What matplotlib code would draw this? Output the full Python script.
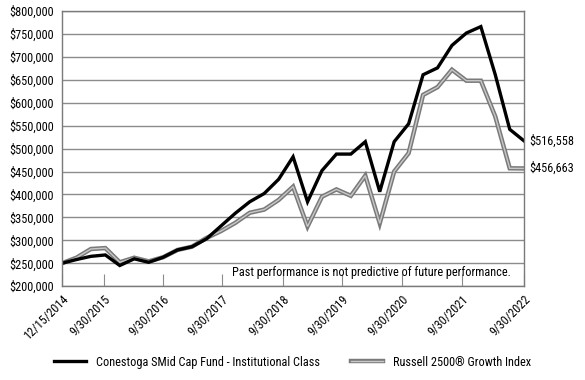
import matplotlib
matplotlib.use("Agg")
import matplotlib.pyplot as plt
from matplotlib.legend_handler import HandlerTuple
from matplotlib.ticker import FuncFormatter

plt.rcParams["font.family"] = ["Roboto Condensed", "DejaVu Sans"]
plt.rcParams["font.stretch"] = "condensed"
FS = 8.8

# quarterly values, 12/15/2014 .. 9/30/2022 (33 points)
fund_label = "Conestoga SMid Cap Fund - Institutional Class"
index_label = "Russell 2500\u00ae Growth Index"
fund = [250000, 258000, 265000, 268000, 245000, 259600, 252000, 263000, 279000,
        286000, 303000, 331000, 359000, 384000, 402000, 433000, 482000, 384000,
        452000, 488000, 488000, 515000, 406000, 515000, 554000, 661000, 676000,
        725000, 752000, 766000, 661000, 542000, 516558]
index = [250000, 262000, 281000, 283000, 252000, 262000, 254000, 263000, 279000,
         286000, 305000, 320000, 338000, 360000, 367000, 388000, 417000, 330000,
         395000, 411000, 397000, 441000, 337000, 450000, 490000, 617000, 634000,
         672000, 648000, 648000, 570000, 457000, 456663]
tick_labels = ["12/15/2014", "9/30/2015", "9/30/2016", "9/30/2017", "9/30/2018",
               "9/30/2019", "9/30/2020", "9/30/2021", "9/30/2022"]
tick_pos = [0, 2.92, 7.0, 11.1, 15.29, 19.4, 23.55, 27.69, 32]
note = "Past performance is not predictive of future performance."

x = list(range(len(fund)))

fig = plt.figure(figsize=(5.85, 3.8), dpi=100)
ax = fig.add_axes([0.106, 0.247, 0.79, 0.724])

ax.set_ylim(200000, 800000)
ax.set_xlim(0, len(fund) - 1)
ax.set_yticks(range(200000, 800001, 50000))
ax.yaxis.set_major_formatter(FuncFormatter(lambda v, _: f"${v:,.0f}"))
ax.grid(axis="y", color="#8c8c8c", linewidth=1.0)
ax.set_axisbelow(True)

g_out, = ax.plot(x, index, color="#7a7a7a", linewidth=3.2, solid_joinstyle="miter")
g_in, = ax.plot(x, index, color="#c8c8c8", linewidth=1.0, solid_joinstyle="miter")
f_line, = ax.plot(x, fund, color="black", linewidth=2.4, solid_joinstyle="miter")

ax.set_xticks(tick_pos)
ax.set_xticklabels(tick_labels, rotation=45, ha="right", rotation_mode="anchor")
ax.tick_params(axis="x", direction="in", length=9, color="#8c8c8c", pad=5, labelsize=FS)
ax.tick_params(axis="y", length=0, pad=6, labelsize=FS)
for s in ax.spines.values():
    s.set_color("#7a7a7a")
    s.set_linewidth(1.0)

ax.text(0.972, 0.027, note, transform=ax.transAxes, ha="right", va="bottom", fontsize=FS)

ax.annotate(f"${fund[-1]:,}", xy=(x[-1], fund[-1]), xytext=(4, 0),
            textcoords="offset points", va="center", ha="left", fontsize=FS,
            annotation_clip=False)
ax.annotate(f"${index[-1]:,}", xy=(x[-1], index[-1]), xytext=(4, 0),
            textcoords="offset points", va="center", ha="left", fontsize=FS,
            annotation_clip=False)

fig.legend([f_line, (g_out, g_in)], [fund_label, index_label],
           handler_map={tuple: HandlerTuple(ndivide=1)},
           loc="center", bbox_to_anchor=(0.5, 0.047), ncol=2, frameon=False,
           fontsize=FS, handlelength=2.6, columnspacing=2.6)

fig.savefig("out.png", dpi=100)
